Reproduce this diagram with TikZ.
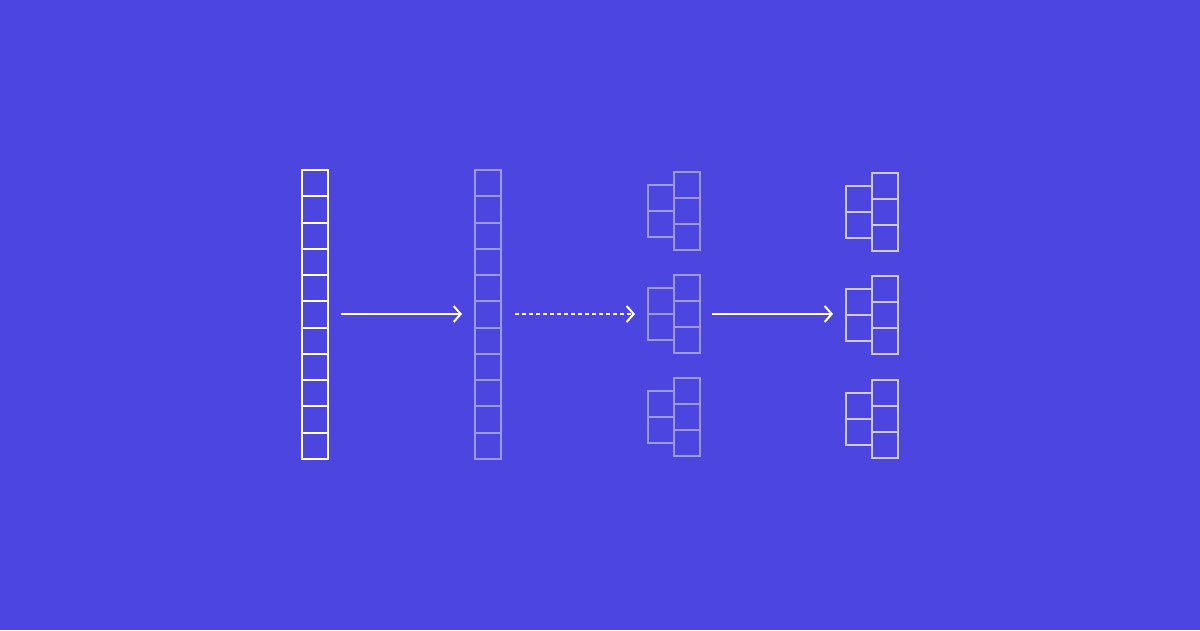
\documentclass[tikz,border=0pt]{standalone}
\usetikzlibrary{arrows.meta}
\definecolor{bg}{RGB}{77,69,223}
\colorlet{faintc}{white!45!bg}
\colorlet{midc}{white!72!bg}
% #1 prefix #2 style #3 x0 #4 x1 #5 ytop #6 step #7 n
\newcommand\cellcol[7]{%
  \foreach \i in {1,...,#7}{
    \pgfmathsetmacro\ta{round(#5+(\i-1)*#6)}
    \pgfmathsetmacro\tb{round(#5+\i*#6)}
    \node[cell,#2,minimum width={#4-#3},minimum height={\tb-\ta}] (#1\i) at ({(#3+#4)/2},{(\ta+\tb)/2}) {};
  }}
\begin{document}
\begin{tikzpicture}[x=1pt,y=-1pt,
  cell/.style={draw=white,line width=2pt,rectangle,inner sep=0pt,outer sep=0pt},
  full/.style={draw=white},
  faint/.style={draw=faintc},
  mid/.style={draw=midc},
  arr/.style={draw=white,line width=2pt,-{Straight Barb[length=7pt,width=16pt,line width=2pt]},shorten <=13pt,shorten >=13pt}]
\fill[bg] (0,0) rectangle (1200,630);
\useasboundingbox (0,0) rectangle (1200,630);
% column 1 and 2
\cellcol{a}{full}{302}{328}{170}{26.27}{11}
\cellcol{b}{faint}{475}{501}{170}{26.27}{11}
% group 3
\cellcol{cRa}{faint}{674}{700}{172}{26}{3}
\cellcol{cLa}{faint}{648}{674}{185}{26}{2}
\cellcol{cRb}{faint}{674}{700}{275}{26}{3}
\cellcol{cLb}{faint}{648}{674}{288}{26}{2}
\cellcol{cRc}{faint}{674}{700}{378}{26}{3}
\cellcol{cLc}{faint}{648}{674}{391}{26}{2}
% group 4
\cellcol{dRa}{mid}{872}{898}{173}{26}{3}
\cellcol{dLa}{mid}{846}{872}{186}{26}{2}
\cellcol{dRb}{mid}{872}{898}{276}{26}{3}
\cellcol{dLb}{mid}{846}{872}{289}{26}{2}
\cellcol{dRc}{mid}{872}{898}{380}{26}{3}
\cellcol{dLc}{mid}{846}{872}{393}{26}{2}
% arrows
\coordinate (s1) at (a6.east |- 0,314);
\coordinate (e1) at (b6.west |- s1);
\draw[arr] (s1) -- (e1);
\coordinate (s2) at (b6.east |- s1);
\coordinate (e2) at (cLb1.west |- s1);
\draw[arr,dash pattern=on 4pt off 3pt,shorten <=14pt] (s2) -- (e2);
\coordinate (s3) at (cRb2.east |- s1);
\coordinate (e3) at (dLb1.west |- s1);
\draw[arr,shorten <=12pt] (s3) -- (e3);
\end{tikzpicture}
\end{document}
